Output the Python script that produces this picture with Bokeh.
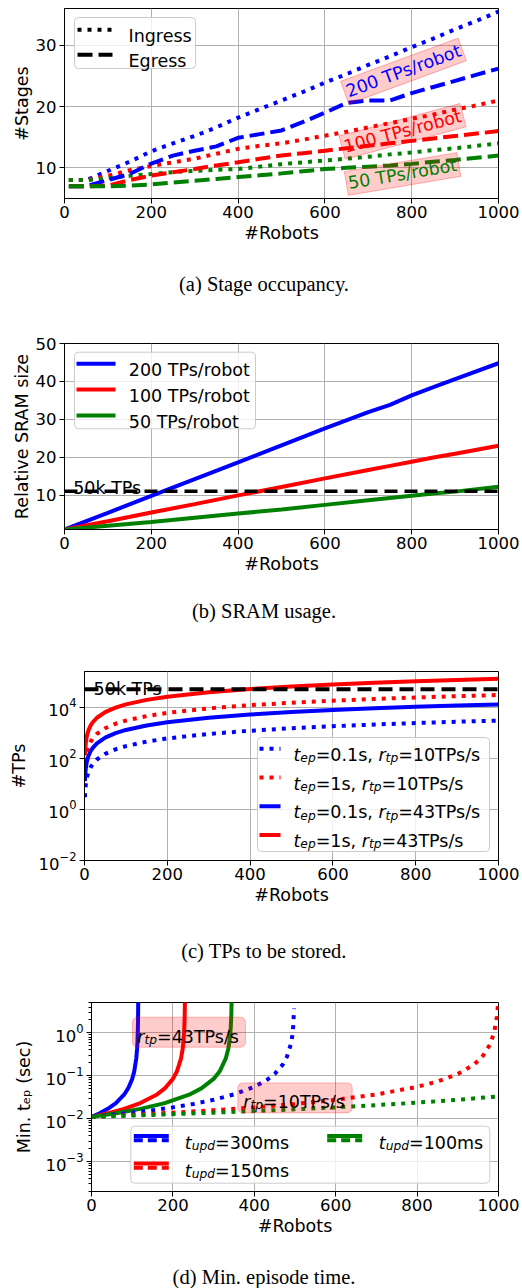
from bokeh.plotting import figure
from bokeh.layouts import column
from bokeh.models import Range1d, FixedTicker, Label, BoxAnnotation, Arrow
from bokeh.embed import file_html
from bokeh.resources import INLINE

# ---------------- data ----------------
X_TICKS = [0, 200, 400, 600, 800, 1000]

# (a) Stage occupancy
ROBOTS_A = [10, 50, 100, 150, 200, 250, 300, 350, 400, 450, 500,
            550, 600, 650, 700, 750, 800, 850, 900, 950, 1000]
ING_200 = [8, 8, 9.5, 11.0, 12.7, 14.0, 15.2, 16.6, 18.2, 19.6, 21.0,
           22.4, 23.9, 25.3, 26.8, 28.2, 29.7, 31.1, 32.6, 34.0, 35.5]
EG_200 = [7, 7, 8.0, 9.0, 10.7, 12.0, 12.8, 13.5, 14.9, 15.5, 16.1,
          17.5, 19.0, 20.6, 21.0, 21.0, 22.2, 23.2, 24.2, 25.2, 26.2]
ING_100 = [8, 8, 8.7, 9.6, 10.3, 10.9, 11.5, 12.3, 13.1, 13.6, 14.0,
           14.6, 15.25, 15.9, 16.6, 17.3, 18.0, 18.7, 19.5, 20.2, 21.0]
EG_100 = [7, 7, 7.1, 8.0, 8.75, 9.3, 9.8, 10.4, 10.9, 11.5, 12.0,
          12.4, 12.8, 13.2, 13.6, 14.0, 14.4, 14.8, 15.2, 15.6, 16.0]
ING_50 = [8, 8, 8.3, 8.7, 9.0, 9.3, 9.5, 9.7, 9.8, 10.2, 10.6,
          10.9, 11.2, 11.5, 11.8, 12.2, 12.5, 12.9, 13.2, 13.6, 14.0]
EG_50 = [7, 7, 7.0, 7.1, 7.3, 7.6, 7.9, 8.2, 8.5, 8.8, 9.1,
         9.45, 9.8, 10.0, 10.2, 10.4, 10.65, 11.0, 11.3, 11.65, 12.0]
A_LEGEND = ["Ingress", "Egress"]
A_LABELS = ["200 TPs/robot", "100 TPs/robot", "50 TPs/robot"]

# (b) SRAM usage
ROBOTS_B = [0, 100, 200, 300, 400, 500, 600, 700, 750, 800, 850, 900, 1000]
SRAM_200 = [0.9, 5.3, 9.8, 14.2, 18.6, 23.1, 27.6, 31.9, 33.8, 36.3, 38.5, 40.6, 44.8]
SRAM_100 = [0.9, 3.1, 5.4, 7.6, 9.9, 12.1, 14.4, 16.6, 17.7, 18.8, 19.9, 20.9, 23.0]
SRAM_50 = [0.9, 1.9, 2.9, 4.0, 5.1, 6.2, 7.4, 8.6, 9.2, 9.8, 10.4, 10.9, 12.2]
SRAM_50K = 11.0

# (c) TPs to be stored
ROBOTS_C = [1, 2, 3, 5, 7, 10, 15, 20, 30, 50, 75, 100, 150, 200,
            300, 400, 500, 600, 700, 800, 900, 1000]
TPS_01_10 = [3, 6, 9, 15, 21, 30, 45, 60, 90, 150, 225, 300, 450, 600,
             900, 1200, 1500, 1800, 2100, 2400, 2700, 3000]
TPS_1_10 = [30, 60, 90, 150, 210, 300, 450, 600, 900, 1500, 2250, 3000, 4500, 6000,
            9000, 12000, 15000, 18000, 21000, 24000, 27000, 30000]
TPS_01_43 = [12.9, 25.8, 38.7, 64.5, 90.3, 129, 193.5, 258, 387, 645, 967.5, 1290,
             1935, 2580, 3870, 5160, 6450, 7740, 9030, 10320, 11610, 12900]
TPS_1_43 = [129, 258, 387, 645, 903, 1290, 1935, 2580, 3870, 6450, 9675, 12900,
            19350, 25800, 38700, 51600, 64500, 77400, 90300, 103200, 116100, 129000]
TPS_50K = 50000
LEG_C_TEP = ["0.1s", "1s", "0.1s", "1s"]
LEG_C_RTP = ["10TPs/s", "10TPs/s", "43TPs/s", "43TPs/s"]

# (d) Min. episode time
X_300_43 = [0, 20, 40, 60, 80, 90, 100, 105, 110, 112, 113, 114, 114.5, 114.8]
T_300_43 = [0.011, 0.0133, 0.0169, 0.0230, 0.0361, 0.0506, 0.0843, 0.1265, 0.253,
            0.422, 0.633, 1.265, 2.53, 6.3]
X_150_43 = [0, 40, 80, 120, 160, 180, 200, 210, 220, 224, 226, 228, 229, 229.6]
T_150_43 = [0.011, 0.0133, 0.0169, 0.0231, 0.0361, 0.0506, 0.0845, 0.127, 0.254,
            0.423, 0.634, 1.27, 2.55, 6.3]
X_100_43 = [0, 60, 120, 180, 240, 270, 300, 315, 330, 336, 339, 342, 343.5, 344.4]
T_100_43 = [0.011, 0.0133, 0.0169, 0.0230, 0.0362, 0.0507, 0.0843, 0.1266, 0.253,
            0.422, 0.633, 1.265, 2.53, 6.3]
X_300_10 = [0, 50, 100, 150, 200, 250, 300, 350, 400, 430, 450, 470, 480, 490, 494, 496, 497.5]
T_300_10 = [0.011, 0.0122, 0.01375, 0.0157, 0.0183, 0.022, 0.0275, 0.0367, 0.055,
            0.0786, 0.11, 0.183, 0.275, 0.55, 0.92, 1.6, 3.7]
X_150_10 = [0, 100, 200, 300, 400, 500, 600, 700, 800, 850, 900, 940, 960, 980, 990, 996, 1000]
T_150_10 = [0.011, 0.0122, 0.01375, 0.0157, 0.0183, 0.022, 0.0275, 0.0367, 0.055,
            0.0733, 0.11, 0.183, 0.275, 0.55, 1.1, 2.4, 6.0]
X_100_10 = [0, 100, 200, 300, 400, 500, 600, 700, 800, 900, 1000]
T_100_10 = [0.011, 0.0118, 0.0127, 0.0138, 0.015, 0.0165, 0.0183, 0.0206, 0.0236,
            0.0275, 0.033]
LEG_D_TUPD = ["300ms", "150ms", "100ms"]
D_RATES = ["43TPs/s", "10TPs/s"]

CAPTIONS = ["(a) Stage occupancy.", "(b) SRAM usage.", "(c) TPs to be stored.",
            "(d) Min. episode time."]
Y_LABELS = ["#Stages", "Relative SRAM size", "#TPs", "Min. t\u2091\u209a (sec)"]
X_LABEL = "#Robots"

# ---------------- helpers ----------------
FONT = "DejaVu Sans"
W = 522
BR = 24
TICK_FS = "16.5px"
FS = 17.5
LAB_FS = "17.5px"

CHAR_W = {c: 0.636 for c in "0123456789"}
CHAR_W.update({"=": 0.838, ".": 0.318, ",": 0.318, " ": 0.318, "s": 0.521, "T": 0.611,
               "P": 0.603, "/": 0.337, "m": 0.974, "t": 0.392, "e": 0.615, "p": 0.635,
               "r": 0.411, "u": 0.634, "d": 0.635})


def text_width(s, size):
    return sum(CHAR_W.get(c, 0.6) for c in s) * size


def txt(p, x, y, text, size=LAB_FS, angle=0, align="center", baseline="middle",
        font=FONT, color="black"):
    p.add_layout(Label(x=x, y=y, x_units="screen", y_units="screen", text=text,
                       text_font=font, text_font_size=size, text_color=color,
                       text_align=align, text_baseline=baseline,
                       angle=angle, angle_units="deg"))


def make_fig(height, left, top, bottom, y_range, y_type, ylabel, ylab_standoff):
    p = figure(width=W, height=height, title=None, x_range=Range1d(0, 1000),
               y_range=y_range, y_axis_type=y_type, output_backend="svg",
               toolbar_location=None, min_border_left=left, min_border_right=BR,
               min_border_top=top, min_border_bottom=bottom)
    p.frame_align = False
    p.xaxis.ticker = FixedTicker(ticks=X_TICKS)
    for ax in (p.xaxis[0], p.yaxis[0]):
        ax.major_label_text_font = FONT
        ax.major_label_text_font_size = TICK_FS
        ax.major_label_text_color = "black"
        ax.axis_label_text_font = FONT
        ax.axis_label_text_font_size = LAB_FS
        ax.axis_label_text_font_style = "normal"
        ax.axis_label_text_color = "black"
        ax.major_tick_in = 0
        ax.major_tick_out = 5
        ax.minor_tick_line_color = None
        ax.axis_line_color = "black"
        ax.major_tick_line_color = "black"
    p.xaxis.major_label_standoff = 2
    p.xaxis.axis_label_standoff = 2
    p.yaxis.major_label_standoff = 3
    p.yaxis.axis_label_standoff = int(ylab_standoff)
    p.xaxis.axis_label = X_LABEL
    p.yaxis.axis_label = ylabel
    p.grid.grid_line_color = "#b0b0b0"
    p.grid.grid_line_width = 1
    p.outline_line_color = "black"
    p.outline_line_alpha = 1
    return p


def make_caption(text, height, y_from_bottom):
    c = figure(width=W, height=height, title=None, x_range=Range1d(0, W),
               y_range=Range1d(0, height), x_axis_location=None, y_axis_location=None,
               output_backend="svg", toolbar_location=None, min_border=0)
    c.frame_align = False
    c.outline_line_color = None
    c.xgrid.visible = False
    c.ygrid.visible = False
    txt(c, 263.5, y_from_bottom, text, size="20.5px", font="Liberation Serif")
    return c


def add_box(p, l, r, b, t, fill, fill_alpha, line, line_alpha, radius):
    p.add_layout(BoxAnnotation(left=l, right=r, bottom=b, top=t,
                               left_units="screen", right_units="screen",
                               bottom_units="screen", top_units="screen",
                               fill_color=fill, fill_alpha=fill_alpha,
                               line_color=line, line_alpha=line_alpha, line_width=1,
                               border_radius=radius))


def add_handle(p, x0, x1, y, color, dash):
    p.add_layout(Arrow(start=None, end=None, x_start=x0, y_start=y, x_end=x1, y_end=y,
                       start_units="screen", end_units="screen", line_color=color,
                       line_width=4, line_dash=dash))


def rich(p, x, y, runs, size=FS, color="black"):
    cx = x
    for t, italic, sub in runs:
        s = size * 0.7 if sub else size
        p.add_layout(Label(x=cx, y=y - (3.5 if sub else 0), x_units="screen",
                           y_units="screen", text=t, text_font=FONT,
                           text_font_size=f"{s:.2f}px",
                           text_font_style="italic" if italic else "normal",
                           text_color=color, text_align="left",
                           text_baseline="alphabetic"))
        cx += text_width(t, s)


DOT = "4 6"
DASH = "15 6"
LEG_FILL = dict(fill="white", fill_alpha=0.8, line="#cccccc", line_alpha=1.0, radius=4)

# ---------------- (a) ----------------
pA = make_fig(250, 64, 8, 52, Range1d(5, 36), "linear", Y_LABELS[0], 1)
pA.yaxis.ticker = FixedTicker(ticks=[10, 20, 30])
for ys, col in ((ING_200, "blue"), (ING_100, "red"), (ING_50, "green")):
    pA.line(ROBOTS_A, ys, line_color=col, line_width=4, line_dash=DOT)
for ys, col in ((EG_200, "blue"), (EG_100, "red"), (EG_50, "green")):
    pA.line(ROBOTS_A, ys, line_color=col, line_width=4, line_dash=DASH)
for (lx, ly, ang), t, col in zip(((781, 25.8, 20.2), (779, 15.95, 15.0), (779, 9.0, 9.6)),
                                A_LABELS, ("blue", "red", "green")):
    pA.add_layout(Label(x=lx, y=ly, text=t, angle=ang, angle_units="deg",
                        text_align="center", text_baseline="middle", text_color=col,
                        text_font=FONT, text_font_size=LAB_FS,
                        background_fill_color="red", background_fill_alpha=0.2,
                        border_line_color="red", border_line_alpha=0.3, padding=2))
add_box(pA, 10, 131, 130, 181, **LEG_FILL)
for i, (lab, dash) in enumerate(zip(A_LEGEND, (DOT, DASH))):
    hy = 168.7 - 25 * i
    add_handle(pA, 13, 48, hy, "black", dash)
    txt(pA, 64, hy - 6.3, lab, align="left", baseline="alphabetic")
capA = make_caption(CAPTIONS[0], 66, 33)

# ---------------- (b) ----------------
pB = make_fig(265, 64, 27, 52, Range1d(0.9, 50), "linear", Y_LABELS[1], 1)
pB.yaxis.ticker = FixedTicker(ticks=[10, 20, 30, 40, 50])
b_cols = ("blue", "red", "green")
for ys, col in zip((SRAM_200, SRAM_100, SRAM_50), b_cols):
    pB.line(ROBOTS_B, ys, line_color=col, line_width=4)
pB.line([0, 1000], [SRAM_50K, SRAM_50K], line_color="black", line_width=3.5, line_dash="13 7")
pB.add_layout(Label(x=20, y=11.9, text="50k TPs", text_font=FONT, text_font_size=LAB_FS,
                    text_color="black", text_baseline="alphabetic"))
add_box(pB, 10, 191, 100.7, 177.3, **LEG_FILL)
for i, (lab, col) in enumerate(zip(A_LABELS, b_cols)):
    hy = 165.7 - 25.8 * i
    add_handle(pB, 12, 51, hy, col, "solid")
    txt(pB, 64.3, hy - 6.3, lab, align="left", baseline="alphabetic")
capB = make_caption(CAPTIONS[1], 59, 30)

# ---------------- (c) ----------------
pC = make_fig(272, 84, 31, 52, Range1d(1e-2, 2.5e5), "log", Y_LABELS[2], 6)
pC.yaxis.ticker = FixedTicker(ticks=[1e-2, 1, 1e2, 1e4], minor_ticks=[])
pC.line(ROBOTS_C, TPS_01_10, line_color="blue", line_width=4, line_dash=DOT)
pC.line(ROBOTS_C, TPS_1_10, line_color="red", line_width=4, line_dash=DOT)
pC.line(ROBOTS_C, TPS_01_43, line_color="blue", line_width=4)
pC.line(ROBOTS_C, TPS_1_43, line_color="red", line_width=4)
pC.line([0, 1000], [TPS_50K, TPS_50K], line_color="black", line_width=4, line_dash="14 7")
pC.add_layout(Label(x=22, y=5.3e4, text="50k TPs", text_font=FONT, text_font_size=LAB_FS,
                    text_color="black", text_baseline="alphabetic"))
add_box(pC, 173, 405, 9, 123, **LEG_FILL)
c_colors = ["blue", "red", "blue", "red"]
c_dash = [DOT, DOT, "solid", "solid"]
for i, (tep, rtp) in enumerate(zip(LEG_C_TEP, LEG_C_RTP)):
    hy = 111.7 - i * 28.7
    add_handle(pC, 175, 196, hy, c_colors[i], c_dash[i])
    rich(pC, 209, hy - 6, [("t", True, False), ("ep", True, True), ("=" + tep + ", ", False, False),
                           ("r", True, False), ("tp", True, True), ("=" + rtp, False, False)])
capC = make_caption(CAPTIONS[2], 73, 35)

# ---------------- (d) ----------------
pD = make_fig(258, 91, 17, 52, Range1d(2e-4, 5.1), "log", Y_LABELS[3], 8)
minor = []
for dec in (1e-4, 1e-3, 1e-2, 1e-1, 1.0):
    for k in range(2, 10):
        minor.append(k * dec)
pD.yaxis.ticker = FixedTicker(ticks=[1e-3, 1e-2, 1e-1, 1], minor_ticks=minor)
pD.yaxis.minor_tick_line_color = "black"
pD.yaxis.minor_tick_in = 0
pD.yaxis.minor_tick_out = 3
for xs, ys, col in ((X_300_43, T_300_43, "blue"), (X_150_43, T_150_43, "red"),
                    (X_100_43, T_100_43, "green")):
    pD.line(xs, ys, line_color=col, line_width=4)
for xs, ys, col in ((X_300_10, T_300_10, "blue"), (X_150_10, T_150_10, "red"),
                    (X_100_10, T_100_10, "green")):
    pD.line(xs, ys, line_color=col, line_width=4, line_dash=DOT)
for (bl, br, bb, bt, tx, ty), rate in zip(((41, 154, 144.3, 174.3, 45.7, 154.6),
                                           (146.3, 260.7, 78.6, 108.6, 151.7, 89.6)), D_RATES):
    add_box(pD, bl, br, bb, bt, "red", 0.2, "red", 0.25, 5)
    rich(pD, tx, ty, [("r", True, False), ("tp", True, True), ("=" + rate, False, False)])
add_box(pD, 39.3, 398.3, 8.3, 65.3, **LEG_FILL)
d_pos = [(42.3, 93.3, 55.6), (42.3, 93.3, 28.0), (235.7, 287.3, 55.6)]
for (hx, tx, hy), tupd, col in zip(d_pos, LEG_D_TUPD, ("blue", "red", "green")):
    add_handle(pD, hx, hx + 35, hy, col, "solid")
    add_handle(pD, hx, hx + 35, hy - 4.3, col, "9 5")
    rich(pD, tx, hy - 7, [("t", True, False), ("upd", True, True), ("=" + tupd, False, False)])
capD = make_caption(CAPTIONS[3], 45, 12)

layout = column(pA, capA, pB, capB, pC, capC, pD, capD, spacing=0)
open("out.html", "w").write(file_html(layout, INLINE, title="plot"))
